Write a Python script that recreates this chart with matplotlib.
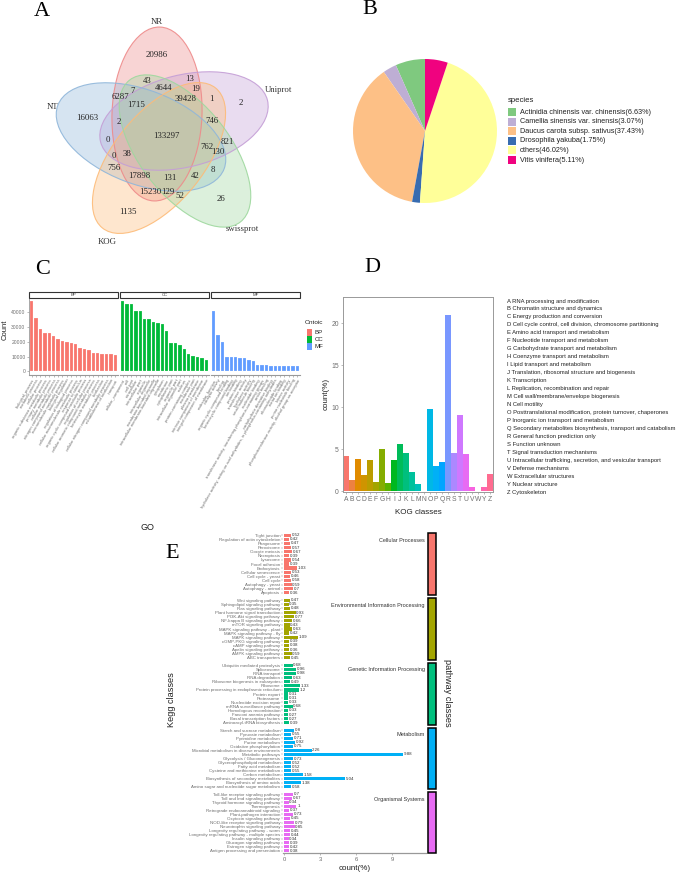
import numpy as np
import matplotlib
matplotlib.use('Agg')
import matplotlib.pyplot as plt
from matplotlib.patches import Ellipse, Rectangle
from matplotlib import font_manager as fm

# ---------------- data ----------------
venn_sets = ['NR', 'Uniprot', 'NT', 'KOG', 'swissprot']
venn_counts = [20986, 43, 13, 7, 4644, 19, 6287, 39428, 1, 2, 1715, 16063, 2, 746,
               133297, 0, 821, 762, 130, 0, 38, 756, 8, 17898, 131, 42, 15230, 129,
               52, 26, 1135]

species = ['Actinidia chinensis var. chinensis', 'Camellia sinensis var. sinensis',
           'Daucus carota subsp. sativus', 'Drosophila yakuba', 'others', 'Vitis vinifera']
species_pct = [6.63, 3.07, 37.43, 1.75, 46.02, 5.11]

go_bp_terms = ['biological_process', 'metabolic process', 'cellular process',
               'organic substance metabolic process', 'primary metabolic process',
               'cellular metabolic process', 'nitrogen compound metabolic process',
               'macromolecule metabolic process', 'biological regulation',
               'regulation of biological process', 'cellular macromolecule metabolic process',
               'response to stimulus', 'organic cyclic compound metabolic process',
               'regulation of cellular process', 'cellular aromatic compound metabolic process',
               'heterocycle metabolic process', 'localization',
               'cellular nitrogen compound metabolic process', 'establishment of localization',
               'transport']
go_bp_counts = [47000, 36000, 28500, 26000, 26000, 23500, 21500, 20500, 19500, 19000,
                18500, 16000, 15000, 14500, 12500, 12500, 11500, 11500, 11500, 11300]
go_cc_terms = ['cellular_component', 'cell', 'cell part', 'intracellular', 'intracellular part',
               'organelle', 'intracellular organelle', 'membrane-bounded organelle',
               'intracellular membrane-bounded organelle', 'cytoplasm', 'membrane',
               'cytoplasmic part', 'organelle part', 'intracellular organelle part', 'nucleus',
               'protein-containing complex', 'membrane part', 'plasma membrane',
               'intrinsic component of membrane', 'integral component of membrane']
go_cc_counts = [47000, 45500, 45500, 40500, 40500, 35000, 35000, 33000, 32300, 32000,
                27000, 19000, 19000, 17500, 15000, 12000, 10500, 10000, 9000, 7500]
go_mf_terms = ['molecular_function', 'catalytic activity', 'binding',
               'organic cyclic compound binding', 'heterocyclic compound binding', 'ion binding',
               'protein binding', 'transferase activity', 'hydrolase activity',
               'small molecule binding', 'nucleotide binding',
               'transferase activity, transferring phosphorus-containing groups',
               'anion binding', 'carbohydrate derivative binding',
               'hydrolase activity, acting on acid anhydrides, in phosphorus-containing anhydrides',
               'ribonucleotide binding', 'metal ion binding', 'kinase activity',
               'purine nucleotide binding', 'phosphotransferase activity, alcohol group as acceptor']
go_mf_counts = [40500, 24500, 19500, 9500, 9500, 9500, 9200, 8800, 7800, 7000,
                4500, 4500, 4300, 3800, 3500, 3500, 3500, 3500, 3500, 3500]
go_onto = ['BP', 'CC', 'MF']
go_yticks = [0, 10000, 20000, 30000, 40000]

kog_letters = list('ABCDEFGHIJKLMNOPQRSTUVWYZ')
kog_pct = [4.14, 1.35, 3.86, 1.87, 3.67, 1.12, 4.98, 0.92, 3.75, 5.58, 4.58, 2.23, 0.88,
           0.05, 9.72, 2.95, 3.43, 21.0, 4.58, 9.04, 4.38, 0.48, 0.02, 0.44, 2.07]
kog_desc = ['RNA processing and modification', 'Chromatin structure and dynamics',
            'Energy production and conversion',
            'Cell cycle control, cell division, chromosome partitioning',
            'Amino acid transport and metabolism', 'Nucleotide transport and metabolism',
            'Carbohydrate transport and metabolism', 'Coenzyme transport and metabolism',
            'Lipid transport and metabolism', 'Translation, ribosomal structure and biogenesis',
            'Transcription', 'Replication, recombination and repair',
            'Cell wall/membrane/envelope biogenesis', 'Cell motility',
            'Posttranslational modification, protein turnover, chaperones',
            'Inorganic ion transport and metabolism',
            'Secondary metabolites biosynthesis, transport and catabolism',
            'General function prediction only', 'Function unknown',
            'Signal transduction mechanisms',
            'Intracellular trafficking, secretion, and vesicular transport',
            'Defense mechanisms', 'Extracellular structures', 'Nuclear structure', 'Cytoskeleton']
kog_yticks = [0, 5, 10, 15, 20]

kegg_classes = ['Cellular Processes', 'Environmental Information Processing',
                'Genetic Information Processing', 'Metabolism', 'Organismal Systems']
cell_terms = ['Tight junction', 'Regulation of actin cytoskeleton', 'Phagosome', 'Peroxisome',
              'Oocyte meiosis', 'Necroptosis', 'Lysosome', 'Focal adhesion', 'Endocytosis',
              'Cellular senescence', 'Cell cycle - yeast', 'Cell cycle', 'Autophagy - yeast',
              'Autophagy - animal', 'Apoptosis']
cell_vals = [0.52, 0.42, 0.47, 0.57, 0.67, 0.39, 0.54, 0.39, 1.03, 0.53, 0.46, 0.58, 0.59, 0.7, 0.36]
env_terms = ['Wnt signaling pathway', 'Sphingolipid signaling pathway', 'Ras signaling pathway',
             'Plant hormone signal transduction', 'PI3K-Akt signaling pathway',
             'NF-kappa B signaling pathway', 'mTOR signaling pathway',
             'MAPK signaling pathway - plant', 'MAPK signaling pathway - fly',
             'MAPK signaling pathway', 'cGMP-PKG signaling pathway', 'cAMP signaling pathway',
             'Apelin signaling pathway', 'AMPK signaling pathway', 'ABC transporters']
env_vals = [0.47, 0.35, 0.48, 0.93, 0.77, 0.66, 0.43, 0.63, 0.42, 1.09, 0.39, 0.38, 0.36, 0.59, 0.45]
gen_terms = ['Ubiquitin mediated proteolysis', 'Spliceosome', 'RNA transport', 'RNA degradation',
             'Ribosome biogenesis in eukaryotes', 'Ribosome',
             'Protein processing in endoplasmic reticulum', 'Protein export', 'Proteasome',
             'Nucleotide excision repair', 'mRNA surveillance pathway',
             'Homologous recombination', 'Fanconi anemia pathway',
             'Basal transcription factors', 'Aminoacyl-tRNA biosynthesis']
gen_vals = [0.68, 0.96, 0.98, 0.63, 0.49, 1.33, 1.2, 0.31, 0.31, 0.33, 0.68, 0.33, 0.27, 0.27, 0.39]
met_terms = ['Starch and sucrose metabolism', 'Pyruvate metabolism', 'Pyrimidine metabolism',
             'Purine metabolism', 'Oxidative phosphorylation',
             'Microbial metabolism in diverse environments', 'Metabolic pathways',
             'Glycolysis / Gluconeogenesis', 'Glycerophospholipid metabolism',
             'Fatty acid metabolism', 'Cysteine and methionine metabolism', 'Carbon metabolism',
             'Biosynthesis of secondary metabolites', 'Biosynthesis of amino acids',
             'Amino sugar and nucleotide sugar metabolism']
met_vals = [0.8, 0.55, 0.71, 0.92, 0.75, 2.26, 9.88, 0.73, 0.52, 0.52, 0.55, 1.58, 5.04, 1.38, 0.58]
org_terms = ['Toll-like receptor signaling pathway', 'Toll and Imd signaling pathway',
             'Thyroid hormone signaling pathway', 'Thermogenesis',
             'Retrograde endocannabinoid signaling', 'Plant-pathogen interaction',
             'Oxytocin signaling pathway', 'NOD-like receptor signaling pathway',
             'Neurotrophin signaling pathway', 'Longevity regulating pathway - worm',
             'Longevity regulating pathway - multiple species', 'Insulin signaling pathway',
             'Glucagon signaling pathway', 'Estrogen signaling pathway',
             'Antigen processing and presentation']
org_vals = [0.7, 0.67, 0.34, 1, 0.37, 0.73, 0.45, 0.79, 0.85, 0.45, 0.44, 0.34, 0.39, 0.42, 0.38]
kegg_xticks = [0, 3, 6, 9]

# ---------------- helpers ----------------
W, H = 685, 875
fig = plt.figure(figsize=(W / 100, H / 100), dpi=100)


def box(l, t, r, b):
    return [l / W, 1 - b / H, (r - l) / W, (b - t) / H]


avail = {f.name for f in fm.fontManager.ttflist}
SANS = 'Liberation Sans' if 'Liberation Sans' in avail else 'DejaVu Sans'
SERIF = 'Liberation Serif' if 'Liberation Serif' in avail else 'DejaVu Serif'
HAS_NARROW = 'Liberation Sans Narrow' in avail
NARROW = 'Liberation Sans Narrow' if HAS_NARROW else SANS
plt.rcParams['font.family'] = [SANS, 'DejaVu Sans']


def hcl_rgb(h, c=100.0, l=65.0):
    hr = np.deg2rad(h)
    U, V = c * np.cos(hr), c * np.sin(hr)
    Xn, Yn, Zn = 95.047, 100.0, 108.883
    Y = Yn * ((l + 16) / 116) ** 3 if l > 8 else Yn * l / 903.3
    den = Xn + 15 * Yn + 3 * Zn
    un, vn = 4 * Xn / den, 9 * Yn / den
    u = U / (13 * l) + un
    v = V / (13 * l) + vn
    X = 9 * Y * u / (4 * v)
    Z = -X / 3 - 5 * Y + 3 * Y / v
    M = np.array([[3.240479, -1.537150, -0.498535],
                  [-0.969256, 1.875992, 0.041556],
                  [0.055648, -0.204043, 1.057311]])
    rgb = M @ (np.array([X, Y, Z]) / 100)
    rgb = np.clip(rgb, 0, None)
    rgb = np.where(rgb <= 0.0031308, 12.92 * rgb, 1.055 * rgb ** (1 / 2.4) - 0.055)
    return tuple(np.clip(rgb, 0, 1))


def hue_pal(n):
    return [hcl_rgb(h % 360) for h in np.linspace(15, 375, n + 1)[:-1]]


GREY_TXT = '#6e6e6e'

# overlay axes in pixel coordinates
ov = fig.add_axes([0, 0, 1, 1])
ov.set_xlim(0, W)
ov.set_ylim(H, 0)
ov.axis('off')
ov.set_zorder(5)
ov.patch.set_alpha(0)

# ---------------- Panel A: Venn ----------------
venn_shapes = [  # center x, center y, major, minor, screen angle
    (157, 114, 174, 90, 88),
    (184, 121, 172, 92, 14),
    (141, 137, 178, 94, -21),
    (159, 158, 180, 90, 51),
    (185, 151, 180, 90, -52),
]
venn_cols = ['#EE8A8A', '#C49ED6', '#8FB6DA', '#FDBB78', '#9ED89E']
for (cx, cy, a, b, ang), col in zip(venn_shapes, venn_cols):
    ov.add_patch(Ellipse((cx, cy), a, b, angle=-ang, facecolor=col, alpha=0.36,
                         edgecolor='none', zorder=1))
    ov.add_patch(Ellipse((cx, cy), a, b, angle=-ang, facecolor='none', edgecolor=col,
                         alpha=0.9, lw=0.8, zorder=2))
venn_xy = [(157, 55), (147, 81), (190, 79), (133, 91), (164, 88), (196, 89), (120, 97),
           (186, 99), (211, 99), (241, 103), (136, 105), (87, 118), (119, 122), (212, 121),
           (166, 136), (108, 140), (227, 142), (207, 147), (218, 152), (114, 156), (127, 154),
           (114, 168), (213, 170), (139, 176), (170, 178), (195, 176), (150, 192), (168, 192),
           (180, 196), (221, 199), (128, 212)]
for n, (x, y) in zip(venn_counts, venn_xy):
    ov.text(x, y, str(n), family=SERIF, fontsize=6.3, ha='center', va='center',
            color='#222222', zorder=3)
venn_label_xy = [(157, 22), (279, 90), (52, 107), (107, 242), (242, 229)]
for s, (x, y) in zip(venn_sets, venn_label_xy):
    ov.text(x, y, s, family=SERIF, fontsize=6.3, ha='center', va='center', color='#333333')

# panel letters
for letter, (x, y) in zip('ABCDE', [(42, 12), (370, 9), (43, 270), (372, 267), (172, 553)]):
    ov.text(x, y, letter, family=SERIF, fontsize=16, ha='center', va='center', color='black')

# ---------------- Panel B: pie ----------------
pie_cols = ['#7FC97F', '#BEAED4', '#FDC086', '#386CB0', '#FFFF99', '#F0027F']
axb = fig.add_axes(box(353, 59, 497, 203))
axb.pie(species_pct, colors=pie_cols, startangle=90, counterclock=True,
        wedgeprops=dict(linewidth=0))
axb.set_xlim(-1, 1)
axb.set_ylim(-1, 1)
axb.set_aspect('equal')
ov.text(508, 100, 'species', fontsize=5.6, ha='left', va='center', color='#222222')
for i, (s, p) in enumerate(zip(species, species_pct)):
    y = 112 + i * 9.6
    ov.add_patch(Rectangle((508, y - 4), 8, 8, facecolor=pie_cols[i], edgecolor='none'))
    ov.text(520, y, f'{s}({p:.2f}%)', fontsize=5.2, ha='left', va='center', color='#222222')

# ---------------- Panel C: GO ----------------
go_cols = hue_pal(3)
go_panels = [(29, 118), (120, 209), (211, 300)]
for i, (terms, counts) in enumerate([(go_bp_terms, go_bp_counts), (go_cc_terms, go_cc_counts),
                                     (go_mf_terms, go_mf_counts)]):
    l, r = go_panels[i]
    ax = fig.add_axes(box(l, 298, r, 375))
    x = np.arange(len(terms))
    ax.bar(x, counts, width=0.8, color=go_cols[i], edgecolor=(1, 1, 1, 0.5), linewidth=0.3)
    ax.set_xlim(-0.6, len(terms) - 0.4)
    ax.set_ylim(-2400, 49300)
    ax.set_xticks(x)
    ax.set_xticklabels(terms, rotation=60, ha='right', va='top', rotation_mode='anchor',
                       fontsize=3.0, color=GREY_TXT)
    ax.tick_params(axis='x', length=1.5, width=0.4, color='#888888', pad=1)
    for sp in ['top', 'right']:
        ax.spines[sp].set_visible(False)
    ax.spines['bottom'].set_color('#999999')
    ax.spines['bottom'].set_linewidth(0.8)
    if i == 0:
        ax.set_yticks(go_yticks)
        ax.set_yticklabels([str(v) for v in go_yticks], fontsize=3.6, color=GREY_TXT)
        ax.tick_params(axis='y', length=1.5, width=0.4, color='#888888', pad=1)
        ax.spines['left'].set_color('#999999')
        ax.spines['left'].set_linewidth(0.6)
    else:
        ax.set_yticks([])
        ax.spines['left'].set_visible(False)
    ax.patch.set_alpha(0)
    ov.add_patch(Rectangle((l, 292), r - l, 6, facecolor='white', edgecolor='#333333', lw=0.8))
    ov.text((l + r) / 2, 295, go_onto[i], fontsize=3.2, ha='center', va='center', color='#444444')
ov.text(5, 330, 'Count', fontsize=5.5, rotation=90, ha='center', va='center', color='#222222')
ov.text(147, 527, 'GO', fontsize=6.5, ha='center', va='center', color='#222222')
ov.text(305, 322, 'Ontoic', fontsize=4.6, ha='left', va='center', color='#222222')
for i, o in enumerate(go_onto):
    y = 332.5 + i * 7
    ov.add_patch(Rectangle((307, y - 3.2), 5.5, 6.4, facecolor=go_cols[i], edgecolor='none'))
    ov.text(315, y, o, fontsize=4.4, ha='left', va='center', color='#222222')

# ---------------- Panel D: KOG ----------------
kog_cols = hue_pal(len(kog_letters))
axd = fig.add_axes(box(343, 297, 493, 492))
xd = np.arange(len(kog_letters))
axd.bar(xd, kog_pct, width=0.86, color=kog_cols)
axd.set_xlim(-0.5, len(kog_letters) - 0.5)
axd.set_ylim(-0.1, 23.1)
axd.set_xticks(xd)
axd.set_xticklabels(kog_letters, fontsize=4.9, color=GREY_TXT)
axd.set_yticks(kog_yticks)
axd.set_yticklabels([str(v) for v in kog_yticks], fontsize=4.9, color=GREY_TXT)
axd.tick_params(length=1.5, width=0.4, color='#888888', pad=1.5)
for sp in axd.spines.values():
    sp.set_color('#999999')
    sp.set_linewidth(0.7)
ov.text(326, 394, 'count(%)', fontsize=5.8, rotation=90, ha='center', va='center', color='#222222')
ov.text(418, 512, 'KOG classes', fontsize=5.8, ha='center', va='center', color='#222222')
for i, (k, d) in enumerate(zip(kog_letters, kog_desc)):
    ov.text(507, 301 + i * 7.96, f'{k} {d}', family=NARROW,
            fontsize=5.0 if HAS_NARROW else 4.2, ha='left', va='center', color='#222222')

# ---------------- Panel E: KEGG ----------------
kegg_cols = hue_pal(5)
e_rows = [(533, 595), (598, 660), (663, 725), (728, 789), (792, 853)]
kegg_data = [(cell_terms, cell_vals), (env_terms, env_vals), (gen_terms, gen_vals),
             (met_terms, met_vals), (org_terms, org_vals)]
for i, (terms, vals) in enumerate(kegg_data):
    t, b = e_rows[i]
    ax = fig.add_axes(box(283, t, 426, b))
    y = np.arange(len(terms))
    ax.barh(y, vals, height=0.82, color=kegg_cols[i])
    ax.set_ylim(len(terms) - 0.45, -0.55)
    ax.set_xlim(-0.12, 11.8)
    ax.set_yticks(y)
    ax.set_yticklabels(terms, fontsize=3.15, color=GREY_TXT)
    ax.tick_params(axis='y', length=1.2, width=0.3, color='#888888', pad=0.8)
    for yy, v in zip(y, vals):
        ax.text(v + 0.06, yy, f'{v:g}', fontsize=3.2, ha='left', va='center', color='#333333')
    for sp in ['top', 'right', 'left']:
        ax.spines[sp].set_visible(False)
    if i == len(kegg_data) - 1:
        ax.set_xticks(kegg_xticks)
        ax.set_xticklabels([str(v) for v in kegg_xticks], fontsize=4.2, color=GREY_TXT)
        ax.tick_params(axis='x', length=1.5, width=0.4, color='#888888', pad=1.5)
        ax.spines['bottom'].set_color('#999999')
        ax.spines['bottom'].set_linewidth(0.9)
    else:
        ax.set_xticks([])
        ax.spines['bottom'].set_visible(False)
    ax.patch.set_alpha(0)
    ov.add_patch(Rectangle((428, t), 8, b - t, facecolor=kegg_cols[i], edgecolor='black', lw=1.1))
    ov.text(425, t + 7, kegg_classes[i], fontsize=4.0, ha='right', va='center', color='#333333')
ov.text(172, 700, 'Kegg classes', fontsize=6.6, rotation=90, ha='center', va='center',
        color='#222222')
ov.text(448, 693, 'pathway classes', fontsize=6.6, rotation=270, ha='center', va='center',
        color='#222222')
ov.text(355, 868, 'count(%)', fontsize=5.8, ha='center', va='center', color='#222222')

fig.savefig('out.png', dpi=100)
